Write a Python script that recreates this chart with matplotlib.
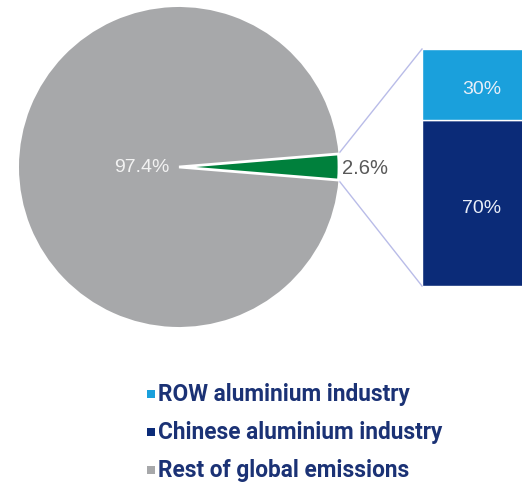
import matplotlib
matplotlib.use("Agg")
import matplotlib.pyplot as plt
import numpy as np

# emissions split
pie_labels = ["Aluminium industry", "Rest of global emissions"]
pie_shares = [2.6, 97.4]
pie_colors = ["#00803c", "#a7a8aa"]

# breakdown of the aluminium slice (bottom to top)
bar_labels = ["Chinese aluminium industry", "ROW aluminium industry"]
bar_shares = [70, 30]
bar_colors = ["#0b2b78", "#1aa0dc"]

legend_labels = ["ROW aluminium industry", "Chinese aluminium industry", "Rest of global emissions"]
legend_colors = ["#1aa0dc", "#0b2b78", "#a7a8aa"]

W, H = 522, 485
fig = plt.figure(figsize=(W / 100, H / 100), dpi=100)
ax = fig.add_axes([0, 0, 1, 1])

cx, cy, r = 179, 317, 160
start = -pie_shares[0] / 100 * 360 / 2
wedges, _ = ax.pie(pie_shares, colors=pie_colors, startangle=start, center=(cx, cy),
                   radius=r, counterclock=True, frame=True,
                   wedgeprops=dict(linewidth=0))
wedges[0].set_edgecolor("white")
wedges[0].set_linewidth(2)
wedges[0].set_zorder(3)
ax.set_xlim(0, W)
ax.set_ylim(0, H)
ax.set_aspect("equal")
ax.axis("off")

ax.text(cx - 37, cy, f"{pie_shares[1]}%", color="#f2f2f2", fontsize=14,
        ha="center", va="center", family="Liberation Sans")
ax.text(cx + r + 3, cy, f"{pie_shares[0]}%", color="#595959", fontsize=14.5,
        ha="left", va="center", family="Liberation Sans")

# stacked bar, scaled so 100% spans the bar height
bar_x, bar_w = 484, 124
bar_bottom, bar_height = 198, 237
scale = bar_height / sum(bar_shares)
bottom = bar_bottom
for share, color in zip(bar_shares, bar_colors):
    h = share * scale
    ax.bar(bar_x, h, width=bar_w, bottom=bottom, color=color,
           edgecolor="white", linewidth=1)
    ax.text(bar_x - 2, bottom + h / 2 - 4, f"{share}%", color="#e8eef8", fontsize=14,
            ha="center", va="center", family="Liberation Sans")
    bottom += h

# connector lines from the slice to the bar
w = wedges[0]
left = bar_x - bar_w / 2
for theta, y_end in [(w.theta2, bar_bottom + bar_height), (w.theta1, bar_bottom)]:
    t = np.deg2rad(theta)
    x0, y0 = cx + r * np.cos(t), cy + r * np.sin(t)
    ax.plot([x0, left], [y0, y_end], color="#b9bce8", linewidth=1)

# legend
for i, (lab, col) in enumerate(zip(legend_labels, legend_colors)):
    y = H - 395 - i * 38
    ax.scatter(151, y, marker="s", s=30, color=col, linewidths=0)
    ax.text(158, y, lab, color="#1b3275", fontsize=16.3, fontweight="bold",
            ha="left", va="center", family="Roboto")

fig.savefig("out.png", dpi=100, facecolor="white")
